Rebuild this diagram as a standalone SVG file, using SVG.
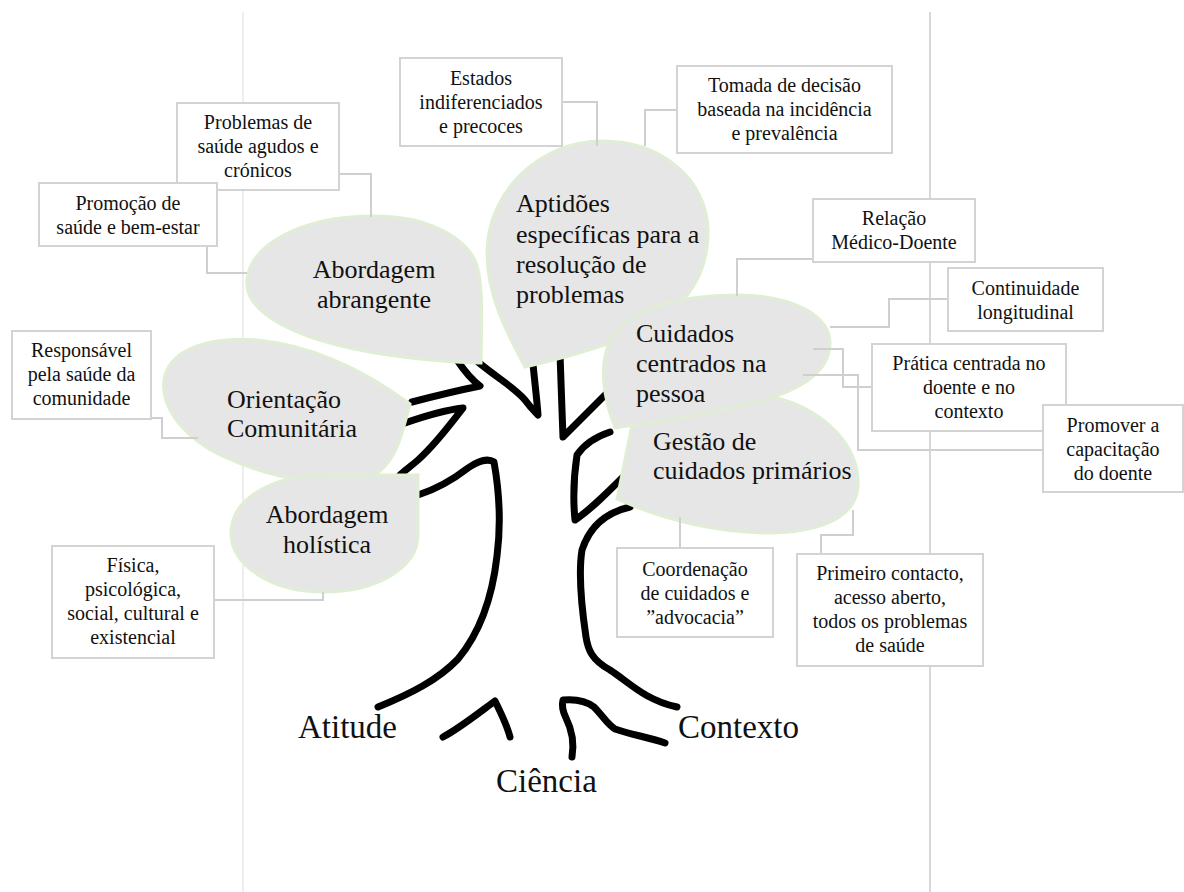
<svg xmlns="http://www.w3.org/2000/svg" width="1184" height="892" viewBox="0 0 1184 892" font-family="'Liberation Serif', 'Times New Roman', serif">
<style>
.page{stroke-width:1.2;fill:none}
.tree path{fill:none;stroke:#000;stroke-width:7;stroke-linecap:round;stroke-linejoin:round}
.leaf path{fill:#e6e6e6;stroke:#e0eed6;stroke-width:3}
.box rect{fill:#fff;stroke:#d3d3d3;stroke-width:2}
.conn path{fill:none;stroke:#cfcfcf;stroke-width:2}
.bt{font-family:'Liberation Serif','Times New Roman',serif;font-size:20px;text-anchor:middle;fill:#111}
.lt{font-family:'Liberation Serif','Times New Roman',serif;font-size:26px;fill:#111}
.big{font-family:'Liberation Serif','Times New Roman',serif;font-size:33px;fill:#111}
</style>
<rect width="1184" height="892" fill="#fff"/>
<line class="page" x1="243" y1="12" x2="243" y2="892" stroke="#e3e3e3"/>
<line class="page" x1="930" y1="12" x2="930" y2="892" stroke="#bdbdbd"/>

<g id="tree" class="tree">
<path d="M 418,495 C 440,488 455,478 468,468 C 478,461 488,458 494,462 C 499,490 501,525 497,556 C 492,600 478,635 458,659 C 438,680 410,694 378,707"/>
<path d="M 630,507 C 608,512 590,525 582,550 C 578,575 582,610 586,637 C 588,650 592,660 610,670 C 630,683 645,700 677,707"/>
<path d="M 457,360 C 465,372 472,380 480,386 C 460,390 435,396 412,402"/>
<path d="M 405,423 C 425,416 445,410 463,408 C 450,425 435,445 418,460 C 410,467 404,471 400,475"/>
<path d="M 478,362 C 500,380 515,388 525,400 C 530,407 535,412 538,415 C 537,400 535,385 533,364"/>
<path d="M 560,354 C 561,385 562,410 563,437 C 575,425 590,410 605,395"/>
<path d="M 610,432 C 598,436 585,443 577,455 C 574,475 573,500 575,520 C 590,510 605,495 622,478"/>
<path d="M 443,737 C 460,728 480,712 495,701 C 501,713 507,725 510,737"/>
<path d="M 572,757 C 574,745 573,732 566,718 C 562,710 562,704 563,700 C 575,699 585,700 594,707 C 602,715 608,725 615,729 C 632,735 648,737 665,743"/>
</g>

<g id="leaf-orientacao" class="leaf">
<path d="M 410,404 C 401,437 397,462 372,477 C 335,492 270,478 222,456 C 178,434 158,402 165,375 C 173,348 212,336 258,340 C 318,346 372,376 410,404 Z"/>
<text class="lt" x="227" y="408">Orientação</text>
<text class="lt" x="227" y="437">Comunitária</text>
</g>
<g id="leaf-abrangente" class="leaf">
<path d="M 481,363 C 430,362 360,354 310,337 C 268,322 244,302 247,279 C 251,245 300,217 370,216 C 425,215 462,235 475,260 C 483,278 482,310 481,363 Z"/>
<text class="lt" x="374" y="278" text-anchor="middle">Abordagem</text>
<text class="lt" x="374" y="308" text-anchor="middle">abrangente</text>
</g>
<g id="leaf-holistica" class="leaf">
<path d="M 418,475 L 418,535 C 418,568 376,592 324,592 C 272,592 231,566 231,533 C 231,500 270,476 322,475 Z"/>
<text class="lt" x="327" y="523" text-anchor="middle">Abordagem</text>
<text class="lt" x="327" y="553" text-anchor="middle">holística</text>
</g>
<g id="leaf-aptidoes" class="leaf">
<path d="M 525,367 C 505,330 486,292 487,250 C 489,190 540,142 600,141 C 662,140 707,180 708,230 C 709,280 680,318 622,339 C 588,351 556,360 525,367 Z"/>
<text class="lt" x="516" y="212">Aptidões</text>
<text class="lt" x="516" y="243">específicas para a</text>
<text class="lt" x="516" y="273">resolução de</text>
<text class="lt" x="516" y="303">problemas</text>
</g>
<g id="leaf-gestao" class="leaf">
<path d="M 617,499 L 636,405 C 680,395 730,390 770,396 C 830,410 860,450 858,487 C 855,520 815,534 762,533 C 705,531 655,516 617,499 Z"/>
<text class="lt" x="653" y="450">Gestão de</text>
<text class="lt" x="653" y="479">cuidados primários</text>
</g>
<g id="leaf-cuidados" class="leaf">
<path d="M 615,428 C 604,400 597,363 612,337 C 633,305 688,295 740,295 C 795,296 830,316 830,343 C 830,372 800,390 760,401 C 712,414 662,421 615,428 Z"/>
<text class="lt" x="636" y="342">Cuidados</text>
<text class="lt" x="636" y="372">centrados na</text>
<text class="lt" x="636" y="402">pessoa</text>
</g>

<g id="connectors" class="conn">
<path d="M 562,102 H 597 V 146"/>
<path d="M 677,110 H 645 V 146"/>
<path d="M 339,174 H 371 V 217"/>
<path d="M 207,246 V 273 H 247"/>
<path d="M 151,418 H 162 V 438 H 198"/>
<path d="M 214,600 H 323 V 592"/>
<path d="M 813,259 H 737 V 296"/>
<path d="M 948,299 H 889 V 327 H 830"/>
<path d="M 872,387 H 843 V 349 H 813"/>
<path d="M 1043,450 H 858 V 375 H 803"/>
<path d="M 680,548 V 517"/>
<path d="M 821,554 V 535 H 853 V 510"/>
</g>

<g id="box-estados" class="box">
<rect x="400" y="58" width="162" height="88"/>
<text class="bt" x="481" y="85">Estados</text>
<text class="bt" x="481" y="109">indiferenciados</text>
<text class="bt" x="481" y="133">e precoces</text>
</g>
<g id="box-tomada" class="box">
<rect x="677" y="66" width="215" height="87"/>
<text class="bt" x="784.5" y="92">Tomada de decisão</text>
<text class="bt" x="784.5" y="116">baseada na incidência</text>
<text class="bt" x="784.5" y="140">e prevalência</text>
</g>
<g id="box-problemas" class="box">
<rect x="177" y="103" width="162" height="87"/>
<text class="bt" x="258" y="129">Problemas de</text>
<text class="bt" x="258" y="153">saúde agudos e</text>
<text class="bt" x="258" y="177">crónicos</text>
</g>
<g id="box-promocao" class="box">
<rect x="39" y="183" width="178" height="63"/>
<text class="bt" x="128" y="210">Promoção de</text>
<text class="bt" x="128" y="234">saúde e bem-estar</text>
</g>
<g id="box-relacao" class="box">
<rect x="813" y="199" width="162" height="63"/>
<text class="bt" x="894" y="225">Relação</text>
<text class="bt" x="894" y="249">Médico-Doente</text>
</g>
<g id="box-continuidade" class="box">
<rect x="948" y="268" width="155" height="63"/>
<text class="bt" x="1025.5" y="295">Continuidade</text>
<text class="bt" x="1025.5" y="319">longitudinal</text>
</g>
<g id="box-pratica" class="box">
<rect x="872" y="344" width="194" height="87"/>
<text class="bt" x="969" y="370">Prática centrada no</text>
<text class="bt" x="969" y="394">doente e no</text>
<text class="bt" x="969" y="418">contexto</text>
</g>
<g id="box-promover" class="box">
<rect x="1043" y="405" width="140" height="87"/>
<text class="bt" x="1113" y="432">Promover a</text>
<text class="bt" x="1113" y="456">capacitação</text>
<text class="bt" x="1113" y="480">do doente</text>
</g>
<g id="box-coordenacao" class="box">
<rect x="617" y="548" width="156" height="89"/>
<text class="bt" x="695" y="576">Coordenação</text>
<text class="bt" x="695" y="600">de cuidados e</text>
<text class="bt" x="695" y="624">”advocacia”</text>
</g>
<g id="box-primeiro" class="box">
<rect x="797" y="554" width="186" height="112"/>
<text class="bt" x="890" y="580">Primeiro contacto,</text>
<text class="bt" x="890" y="604">acesso aberto,</text>
<text class="bt" x="890" y="628">todos os problemas</text>
<text class="bt" x="890" y="652">de saúde</text>
</g>
<g id="box-responsavel" class="box">
<rect x="12" y="331" width="139" height="88"/>
<text class="bt" x="81.5" y="357">Responsável</text>
<text class="bt" x="81.5" y="381">pela saúde da</text>
<text class="bt" x="81.5" y="405">comunidade</text>
</g>
<g id="box-fisica" class="box">
<rect x="52" y="546" width="162" height="112"/>
<text class="bt" x="133" y="572">Física,</text>
<text class="bt" x="133" y="596">psicológica,</text>
<text class="bt" x="133" y="620">social, cultural e</text>
<text class="bt" x="133" y="644">existencial</text>
</g>

<g id="labels">
<text class="big" x="298" y="738">Atitude</text>
<text class="big" x="496" y="792">Ciência</text>
<text class="big" x="678" y="738">Contexto</text>
</g>
</svg>
